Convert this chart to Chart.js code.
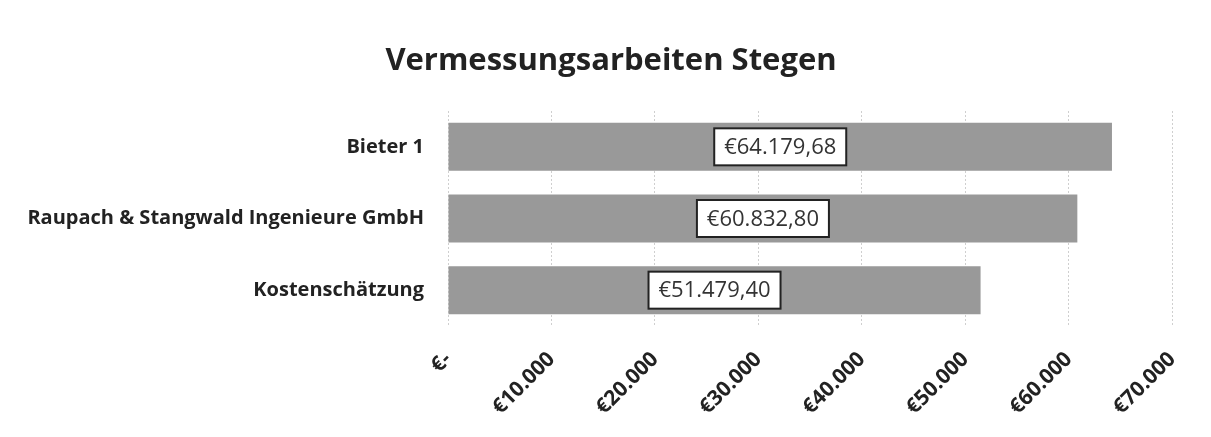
<!DOCTYPE html>
<html>
<head>
<meta charset="utf-8">
<script src="https://cdn.jsdelivr.net/npm/chart.js@4"></script>
<style>
  html, body { margin: 0; padding: 0; background: #fff; }
  #wrap { width: 1211px; height: 437px; }
</style>
</head>
<body>
<div id="wrap"><canvas id="grafik" width="1211" height="437"></canvas></div>
<script>
// data
const kategorien = ["Bieter 1", "Raupach & Stangwald Ingenieure GmbH", "Kostenschätzung"];
const betraege = [64179.68, 60832.80, 51479.40];
const wertLabels = ["€64.179,68", "€60.832,80", "€51.479,40"];
const achsenLabels = ["€-", "€10.000", "€20.000", "€30.000", "€40.000", "€50.000", "€60.000", "€70.000"];
const titel = "Vermessungsarbeiten Stegen";

const FONT = "'Open Sans', 'Liberation Sans', sans-serif";

// title, drawn centred over the whole frame (not only the chart box)
const titelPlugin = {
    id: "titel",
    afterDraw(chart) {
        const ctx = chart.ctx;
        ctx.save();
        ctx.font = "bold 31px " + FONT;
        ctx.fillStyle = "#222";
        ctx.textAlign = "center";
        ctx.textBaseline = "middle";
        ctx.fillText(titel, 611, 61);
        ctx.restore();
    }
};

// white boxed value labels in the middle of each bar
const wertBoxPlugin = {
    id: "wertBox",
    afterDatasetsDraw(chart) {
        const ctx = chart.ctx;
        const meta = chart.getDatasetMeta(0);
        ctx.save();
        ctx.font = "22px " + FONT;
        ctx.textAlign = "center";
        ctx.textBaseline = "middle";
        meta.data.forEach((bar, i) => {
            const cx = (bar.x + bar.base) / 2;
            const cy = bar.y;
            const w = 132, h = 37;
            ctx.fillStyle = "#fff";
            ctx.fillRect(cx - w / 2, cy - h / 2, w, h);
            ctx.lineWidth = 2;
            ctx.strokeStyle = "#222";
            ctx.strokeRect(cx - w / 2, cy - h / 2, w, h);
            ctx.fillStyle = "#333";
            ctx.fillText(wertLabels[i], cx, cy + 1);
        });
        ctx.restore();
    }
};

new Chart(document.getElementById("grafik"), {
    type: "bar",
    data: {
        labels: kategorien,
        datasets: [{
            data: betraege,
            backgroundColor: "#999999",
            borderWidth: 0,
            categoryPercentage: 0.67,
            barPercentage: 1
        }]
    },
    options: {
        indexAxis: "y",
        responsive: false,
        animation: false,
        layout: { padding: { left: 0, right: 38, top: 111, bottom: 0 } },
        plugins: {
            legend: { display: false },
            tooltip: { enabled: false },
            title: { display: false }
        },
        scales: {
            x: {
                min: 0,
                max: 70000,
                ticks: {
                    stepSize: 10000,
                    minRotation: 45,
                    maxRotation: 45,
                    padding: 21,
                    color: "#222",
                    font: { family: FONT, size: 21, weight: "bold" },
                    callback: (v, i) => achsenLabels[i]
                },
                grid: {
                    color: "#cfcfcf",
                    lineWidth: 1,
                    drawTicks: false
                },
                border: { display: false, dash: [2, 2] },
                afterFit: (axis) => { axis.height = 111; }
            },
            y: {
                ticks: {
                    padding: 24,
                    color: "#222",
                    font: { family: FONT, size: 20, weight: "bold" }
                },
                grid: { display: false, drawTicks: false },
                border: { display: false },
                afterFit: (axis) => { axis.width = 448; }
            }
        }
    },
    plugins: [wertBoxPlugin, titelPlugin]
});
</script>
</body>
</html>
